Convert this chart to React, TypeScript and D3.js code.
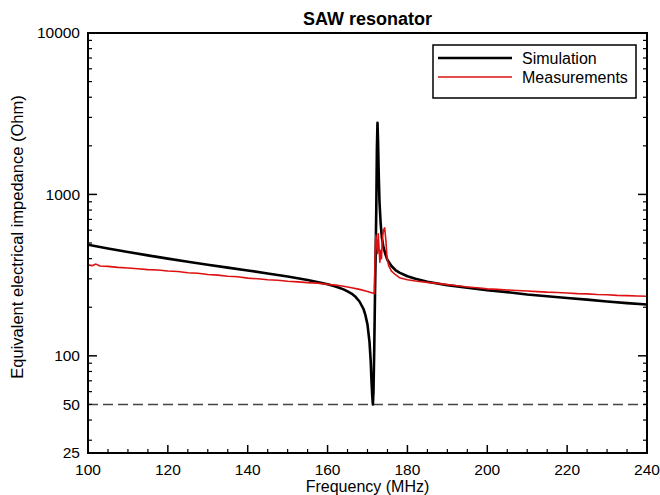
import React from "react";
import * as d3 from "d3";

const simFreq = [100, 105, 110, 115, 120, 125, 130, 135, 140, 145, 150, 155, 158, 160, 162, 164, 165, 166, 167, 168, 169, 169.5, 170, 170.5, 170.8, 171, 171.2, 171.35, 171.5, 171.7, 171.9, 172, 172.2, 172.35, 172.5, 172.65, 172.8, 173, 173.3, 173.6, 174, 174.5, 175, 176, 177, 178, 180, 182, 185, 190, 195, 200, 205, 210, 215, 220, 225, 230, 235, 240];
const simZ = [488, 462, 440, 419, 400, 383, 367, 352, 338, 324, 310, 295, 285, 278, 269, 258, 251, 243, 232, 217, 195, 178, 156, 122, 93, 70, 56, 50, 60, 115, 261, 370, 806, 1900, 2780, 2100, 1370, 900, 660, 540, 470, 425, 392, 360, 340, 328, 311, 300, 288, 274, 264, 255, 248, 240, 234, 228, 223, 217, 212, 208];

const measFreq = [100, 101, 102, 103, 105, 107.5, 110, 112.5, 115, 117.5, 120, 122.5, 125, 127.5, 130, 132.5, 135, 137.5, 140, 142.5, 145, 147.5, 150, 152.5, 155, 157.5, 160, 162, 164, 166, 168, 170, 171, 171.7, 171.9, 172.1, 172.3, 172.5, 172.7, 172.9, 173.1, 173.3, 173.5, 173.7, 174, 174.3, 174.6, 174.9, 175.3, 176, 177, 178, 179, 180, 182, 185, 187.5, 190, 192.5, 195, 197.5, 200, 202.5, 205, 207.5, 210, 212.5, 215, 217.5, 220, 222.5, 225, 227.5, 230, 232.5, 235, 237.5, 240];
const measZ = [366, 362, 370, 360, 358, 353, 350, 346, 342, 340, 335, 333, 327, 325, 319, 316, 311, 309, 303, 300, 296, 294, 290, 287, 284, 282, 277, 274, 270, 264, 258, 250, 246, 243, 420, 560, 500, 430, 570, 460, 380, 450, 400, 520, 600, 620, 520, 400, 362, 335, 318, 305, 300, 296, 291, 285, 281, 276, 272, 267, 264, 260, 258, 256, 254, 252, 250, 248, 247, 245, 243, 242, 240, 239, 237, 236, 235, 234];

const xTicksMajor = [100, 120, 140, 160, 180, 200, 220, 240];
const yTickLabels = [25, 50, 100, 1000, 10000];
const refLevel = 50;

const W = 660, H = 495;
const M = { left: 88, right: 647, top: 33, bottom: 453 };
const font = "'Liberation Sans', Arial, Helvetica, sans-serif";

export default function App() {
  const x = d3.scaleLinear().domain([100, 240]).range([M.left, M.right]);
  const y = d3.scaleLog().domain([25, 10000]).range([M.bottom, M.top]);

  const simData = simFreq.map((f, i) => [f, simZ[i]] as [number, number]);
  const measData = measFreq.map((f, i) => [f, measZ[i]] as [number, number]);
  const line = d3.line<[number, number]>().x(d => x(d[0])).y(d => y(d[1]));

  const xMinor = d3.range(100, 240.01, 5).filter(v => !xTicksMajor.includes(v));
  const yMinor: number[] = [];
  const yMajor = [100, 1000, 10000];
  for (const dec of [10, 100, 1000]) {
    for (let k = 2; k <= 9; k++) {
      const v = dec * k;
      if (v >= 25 && v < 10000) yMinor.push(v);
    }
  }

  return (
    <svg width={W} height={H} style={{ position: "absolute", left: 0, top: 0, background: "#fff" }}>
      <defs>
        <clipPath id="plot">
          <rect x={M.left} y={M.top} width={M.right - M.left} height={M.bottom - M.top} />
        </clipPath>
      </defs>
      <text x={(M.left + M.right) / 2} y={25} textAnchor="middle" fontFamily={font} fontWeight="bold" fontSize={18}>SAW resonator</text>

      <g clipPath="url(#plot)">
        <line x1={M.left} x2={M.right} y1={y(refLevel)} y2={y(refLevel)} stroke="#444" strokeWidth={1.5} strokeDasharray="10,5" />
        <path d={line(simData) || ""} fill="none" stroke="#000" strokeWidth={2.6} strokeLinejoin="round" />
        <path d={line(measData) || ""} fill="none" stroke="#dd1111" strokeWidth={1.6} strokeLinejoin="round" />
      </g>

      {/* x ticks */}
      {xTicksMajor.map(v => (
        <g key={"xm" + v}>
          <line x1={x(v)} x2={x(v)} y1={M.bottom} y2={M.bottom - 8} stroke="#000" strokeWidth={1.5} />
          <text x={x(v)} y={475} textAnchor="middle" fontFamily={font} fontSize={15.5}>{v}</text>
        </g>
      ))}
      {xMinor.map(v => (
        <line key={"xn" + v} x1={x(v)} x2={x(v)} y1={M.bottom} y2={M.bottom - 4} stroke="#000" strokeWidth={1.2} />
      ))}

      {/* y ticks left and right */}
      {yMajor.map(v => (
        <g key={"ym" + v}>
          <line x1={M.left} x2={M.left + 9} y1={y(v)} y2={y(v)} stroke="#000" strokeWidth={1.5} />
          <line x1={M.right} x2={M.right - 9} y1={y(v)} y2={y(v)} stroke="#000" strokeWidth={1.5} />
        </g>
      ))}
      {yMinor.map(v => (
        <g key={"yn" + v}>
          <line x1={M.left} x2={M.left + 4} y1={y(v)} y2={y(v)} stroke="#000" strokeWidth={1.2} />
          <line x1={M.right} x2={M.right - 4} y1={y(v)} y2={y(v)} stroke="#000" strokeWidth={1.2} />
        </g>
      ))}
      {yTickLabels.map(v => (
        <text key={"yl" + v} x={80} y={y(v)} dy="0.35em" textAnchor="end" fontFamily={font} fontSize={15.5}>{v}</text>
      ))}

      {/* frame */}
      <rect x={M.left} y={M.top} width={M.right - M.left} height={M.bottom - M.top} fill="none" stroke="#000" strokeWidth={2} />

      <text x={(M.left + M.right) / 2} y={492} textAnchor="middle" fontFamily={font} fontSize={16}>Frequency (MHz)</text>
      <text transform={`translate(23,237) rotate(-90)`} textAnchor="middle" fontFamily={font} fontSize={16.5}>Equivalent electrical impedance (Ohm)</text>

      {/* legend */}
      <rect x={433} y={45} width={203} height={53} fill="#fff" stroke="#000" strokeWidth={1.5} />
      <line x1={438} x2={512} y1={58} y2={58} stroke="#000" strokeWidth={2.6} />
      <line x1={438} x2={512} y1={77} y2={77} stroke="#dd1111" strokeWidth={1.6} />
      <text x={522} y={64} fontFamily={font} fontSize={16}>Simulation</text>
      <text x={522} y={83} fontFamily={font} fontSize={16}>Measurements</text>
    </svg>
  );
}
